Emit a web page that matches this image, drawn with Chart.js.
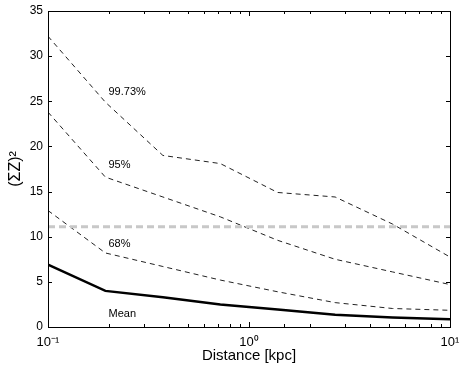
<!DOCTYPE html>
<html>
<head>
<meta charset="utf-8">
<script src="https://cdn.jsdelivr.net/npm/chart.js@4/dist/chart.umd.min.js"></script>
<style>
  html, body { margin: 0; padding: 0; background: #fff; }
  #wrap { width: 463px; height: 368px; position: relative; }
</style>
</head>
<body>
<div id="wrap"><canvas id="c"></canvas></div>
<script>
// distances [kpc], log-spaced
const distance = [0.1, 0.193, 0.373, 0.72, 1.389, 2.683, 5.179, 10];
const meanVals = [6.9, 4.0, 3.3, 2.5, 1.95, 1.35, 1.05, 0.85];
const p68Vals = [12.9, 8.2, 6.7, 5.2, 3.9, 2.7, 2.05, 1.85];
const p95Vals = [23.8, 16.6, 14.4, 12.2, 9.6, 7.5, 6.1, 4.7];
const p9973Vals = [32.2, 24.9, 19.0, 18.1, 14.9, 14.4, 11.4, 7.75];
const threshold = 11.1;

// in-plot text labels (data coordinates)
const labelNames = ["99.73%", "95%", "68%", "Mean"];
const labelX = [0.2, 0.2, 0.2, 0.2];
const labelY = [26.0, 18.0, 9.2, 1.45];

const yTicks = [0, 5, 10, 15, 20, 25, 30, 35];

const FONT = "'Liberation Sans', Arial, Helvetica, sans-serif";
const sup = { "-": "\u207B", "0": "\u2070", "1": "\u00B9", "2": "\u00B2", "3": "\u00B3" };

const pts = vals => vals.map((v, i) => ({ x: distance[i], y: v }));
const isDecade = v => {
  const l = Math.log10(v);
  return Math.abs(l - Math.round(l)) < 1e-6;
};

const tickMarks = {
  id: "tickMarks",
  afterDraw(chart) {
    const { ctx, chartArea: a, scales: { x, y } } = chart;
    ctx.save();
    ctx.strokeStyle = "#000";
    ctx.lineWidth = 1;
    ctx.beginPath();
    x.ticks.forEach(t => {
      const px = Math.round(x.getPixelForValue(t.value)) + 0.5;
      const len = isDecade(t.value) ? 5 : 3;
      ctx.moveTo(px, a.bottom); ctx.lineTo(px, a.bottom - len);
      ctx.moveTo(px, a.top); ctx.lineTo(px, a.top + len);
    });
    y.ticks.forEach(t => {
      const py = Math.round(y.getPixelForValue(t.value)) + 0.5;
      ctx.moveTo(a.left, py); ctx.lineTo(a.left + 4, py);
      ctx.moveTo(a.right, py); ctx.lineTo(a.right - 4, py);
    });
    ctx.stroke();
    // box
    ctx.strokeRect(Math.round(a.left) + 0.5, Math.round(a.top) + 0.5,
      Math.round(a.right - a.left), Math.round(a.bottom - a.top));
    // series names
    ctx.fillStyle = "#000";
    ctx.font = "11px " + FONT;
    ctx.textAlign = "left";
    ctx.textBaseline = "middle";
    labelNames.forEach((s, i) => {
      ctx.fillText(s, x.getPixelForValue(labelX[i]), y.getPixelForValue(labelY[i]));
    });
    ctx.restore();
  }
};

const dashed = (vals) => ({
  data: pts(vals),
  borderColor: "#222",
  borderWidth: 1,
  borderDash: [5, 4],
  pointRadius: 0,
  tension: 0,
  fill: false
});

new Chart(document.getElementById("c"), {
  type: "line",
  data: {
    datasets: [
      {
        data: [{ x: distance[0], y: threshold }, { x: distance[distance.length - 1], y: threshold }],
        borderColor: "#c8c8c8",
        borderWidth: 3,
        borderDash: [7, 4],
        pointRadius: 0,
        fill: false
      },
      dashed(p9973Vals),
      dashed(p95Vals),
      dashed(p68Vals),
      {
        data: pts(meanVals),
        borderColor: "#000",
        borderWidth: 2.5,
        pointRadius: 0,
        tension: 0,
        fill: false
      }
    ]
  },
  options: {
    responsive: true,
    maintainAspectRatio: false,
    animation: false,
    layout: { padding: { top: 11, right: 13 } },
    plugins: { legend: { display: false }, tooltip: { enabled: false } },
    scales: {
      x: {
        type: "logarithmic",
        min: 0.1,
        max: 10,
        grid: { display: false, drawTicks: false },
        border: { display: false },
        ticks: {
          autoSkip: false,
          maxRotation: 0,
          padding: 8,
          color: "#000",
          font: { family: FONT, size: 13 },
          callback: v => {
            if (!isDecade(v)) return "";
            const e = String(Math.round(Math.log10(v)));
            return "10" + e.split("").map(ch => sup[ch]).join("");
          }
        },
        title: {
          display: true,
          text: "Distance [kpc]",
          color: "#000",
          font: { family: FONT, size: 15 },
          padding: { top: 0, bottom: 3 }
        },
        afterFit: s => { s.height = 41; s.paddingLeft = 0; s.paddingRight = 0; }
      },
      y: {
        min: 0,
        max: 35,
        afterBuildTicks: s => { s.ticks = yTicks.map(v => ({ value: v })); },
        grid: { display: false, drawTicks: false },
        border: { display: false },
        ticks: {
          padding: 5,
          color: "#000",
          font: { family: FONT, size: 12 }
        },
        title: {
          display: true,
          text: "(\u03A3Z)\u00B2",
          color: "#000",
          font: { family: FONT, size: 16 },
          padding: { top: 6, bottom: 0 }
        },
        afterFit: s => { s.width = 48; s.paddingTop = 0; s.paddingBottom = 0; }
      }
    }
  },
  plugins: [tickMarks]
});
</script>
</body>
</html>
